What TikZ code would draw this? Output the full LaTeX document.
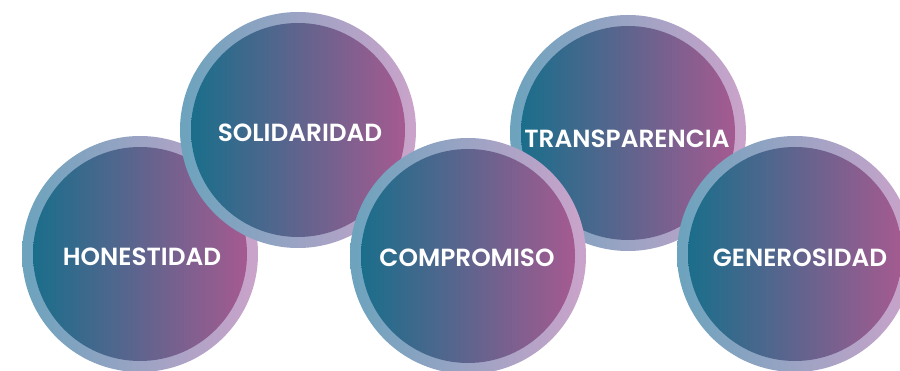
\documentclass[tikz,border=0pt]{standalone}
\usepackage{fontspec}
\setmainfont{Poppins}
\newfontfamily\lblfont{Poppins SemiBold}
\definecolor{inL}{HTML}{1A6E8B}
\definecolor{inM}{HTML}{5C668F}
\definecolor{inR}{HTML}{A55A90}
\definecolor{rgL}{HTML}{6CA3BD}
\definecolor{rgM}{HTML}{9A9CC2}
\definecolor{rgR}{HTML}{CBA3CA}
\tikzset{
  ring/.style={circle, inner sep=0pt, minimum size=236pt, left color=rgL, middle color=rgM, right color=rgR},
  disk/.style={circle, inner sep=0pt, minimum size=214pt, left color=inL, middle color=inM, right color=inR},
  lbl/.style={text=white, font=\lblfont\fontsize{24.8}{25}\selectfont, inner sep=0pt, anchor=center}
}
\begin{document}
\begin{tikzpicture}[x=1pt,y=-1pt]
\useasboundingbox (0,0) rectangle (900,371);
\clip (0,0) rectangle (900,371);
\fill[white] (0,0) rectangle (900,371);
% HONESTIDAD
\node[ring] (hr) at (140,254) {};
\node[disk] (hd) at (140,254) {};
\node[lbl] (ht) at (142,257) {HONESTIDAD};
% SOLIDARIDAD
\node[ring] (sr) at (298,130) {};
\node[disk] (sd) at (298,130) {};
\node[lbl] (st) at (300,133) {SOLIDARIDAD};
% TRANSPARENCIA
\node[ring] (tr) at (628,133) {};
\node[disk] (td) at (628,133) {};
\node[lbl] (tt) at (627,139) {TRANSPARENCIA};
% COMPROMISO
\node[ring] (cr) at (468,256) {};
\node[disk] (cd) at (468,256) {};
\node[lbl] (ct) at (467,258) {COMPROMISO};
% GENEROSIDAD
\node[ring] (gr) at (795,254) {};
\node[disk] (gd) at (795,254) {};
\node[lbl] (gt) at (800,258) {GENEROSIDAD};
\end{tikzpicture}
\end{document}
